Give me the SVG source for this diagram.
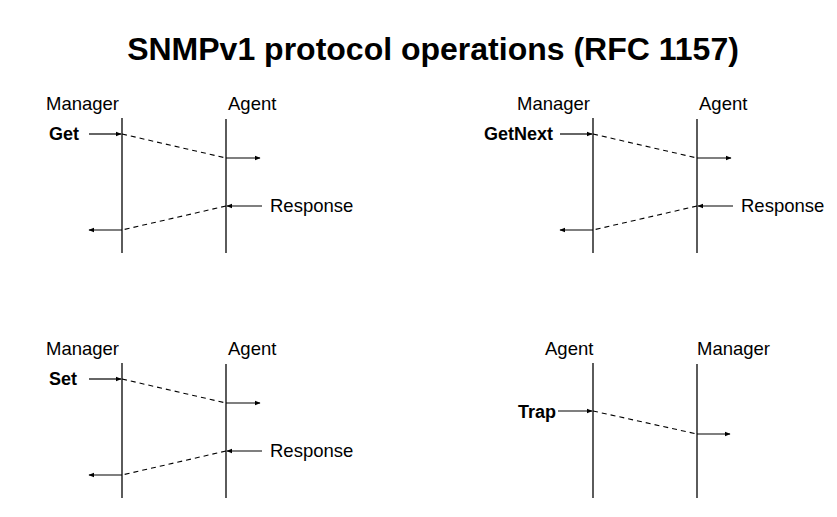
<svg xmlns="http://www.w3.org/2000/svg" width="837" height="517" viewBox="0 0 837 517">
<style>
text{font-family:"Liberation Sans",Arial,sans-serif;fill:#000}
.lbl{font-size:18.5px}
.op{font-size:18px;font-weight:bold}
.title{font-size:32px;font-weight:bold}
.life{stroke:#333;stroke-width:1.6;fill:none}
.msg{stroke:#000;stroke-width:1.2;fill:none;marker-end:url(#ah)}
.dash{stroke:#000;stroke-width:1.1;fill:none;stroke-dasharray:5,4}
</style>
<defs>
<marker id="ah" viewBox="0 0 10 10" refX="9" refY="5" markerWidth="6" markerHeight="6" markerUnits="userSpaceOnUse" orient="auto">
<path d="M0,1 L10,5 L0,9 z" fill="#000"/>
</marker>
</defs>
<text class="title" x="433" y="60" text-anchor="middle">SNMPv1 protocol operations (RFC 1157)</text>

<g id="get">
<text class="lbl" x="46" y="110">Manager</text>
<text class="lbl" x="228" y="110">Agent</text>
<line class="life" x1="122" y1="118" x2="122" y2="253"/>
<line class="life" x1="226" y1="119" x2="226" y2="253"/>
<text class="op" x="49" y="140">Get</text>
<text class="lbl" x="270" y="212">Response</text>
</g>
<g id="getnext">
<text class="lbl" x="517" y="110">Manager</text>
<text class="lbl" x="699" y="110">Agent</text>
<line class="life" x1="593" y1="118" x2="593" y2="253"/>
<line class="life" x1="697" y1="119" x2="697" y2="253"/>
<text class="op" x="484" y="140">GetNext</text>
<text class="lbl" x="741" y="212">Response</text>
</g>
<g id="set">
<text class="lbl" x="46" y="355">Manager</text>
<text class="lbl" x="228" y="355">Agent</text>
<line class="life" x1="122" y1="363" x2="122" y2="498"/>
<line class="life" x1="226" y1="364" x2="226" y2="498"/>
<text class="op" x="49" y="385">Set</text>
<text class="lbl" x="270" y="457">Response</text>
</g>
<g id="trap">
<text class="lbl" x="545" y="355">Agent</text>
<text class="lbl" x="697" y="355">Manager</text>
<line class="life" x1="593" y1="363" x2="593" y2="498"/>
<line class="life" x1="697" y1="364" x2="697" y2="498"/>
<text class="op" x="518" y="418">Trap</text>
</g>

<g id="connectors">
<line class="msg" x1="89" y1="134" x2="121" y2="134"/>
<line class="dash" x1="122" y1="134" x2="226" y2="158"/>
<line class="msg" x1="226" y1="158" x2="260" y2="158"/>
<line class="msg" x1="262" y1="206" x2="227" y2="206"/>
<line class="dash" x1="226" y1="206" x2="122" y2="230"/>
<line class="msg" x1="122" y1="230" x2="89" y2="230"/>

<line class="msg" x1="560" y1="134" x2="592" y2="134"/>
<line class="dash" x1="593" y1="134" x2="697" y2="158"/>
<line class="msg" x1="697" y1="158" x2="731" y2="158"/>
<line class="msg" x1="733" y1="206" x2="698" y2="206"/>
<line class="dash" x1="697" y1="206" x2="593" y2="230"/>
<line class="msg" x1="593" y1="230" x2="560" y2="230"/>

<line class="msg" x1="89" y1="379" x2="121" y2="379"/>
<line class="dash" x1="122" y1="379" x2="226" y2="403"/>
<line class="msg" x1="226" y1="403" x2="260" y2="403"/>
<line class="msg" x1="262" y1="451" x2="227" y2="451"/>
<line class="dash" x1="226" y1="451" x2="122" y2="475"/>
<line class="msg" x1="122" y1="475" x2="89" y2="475"/>

<line class="msg" x1="558" y1="411" x2="592" y2="411"/>
<line class="dash" x1="593" y1="411" x2="697" y2="434"/>
<line class="msg" x1="697" y1="434" x2="730" y2="434"/>
</g>
</svg>
